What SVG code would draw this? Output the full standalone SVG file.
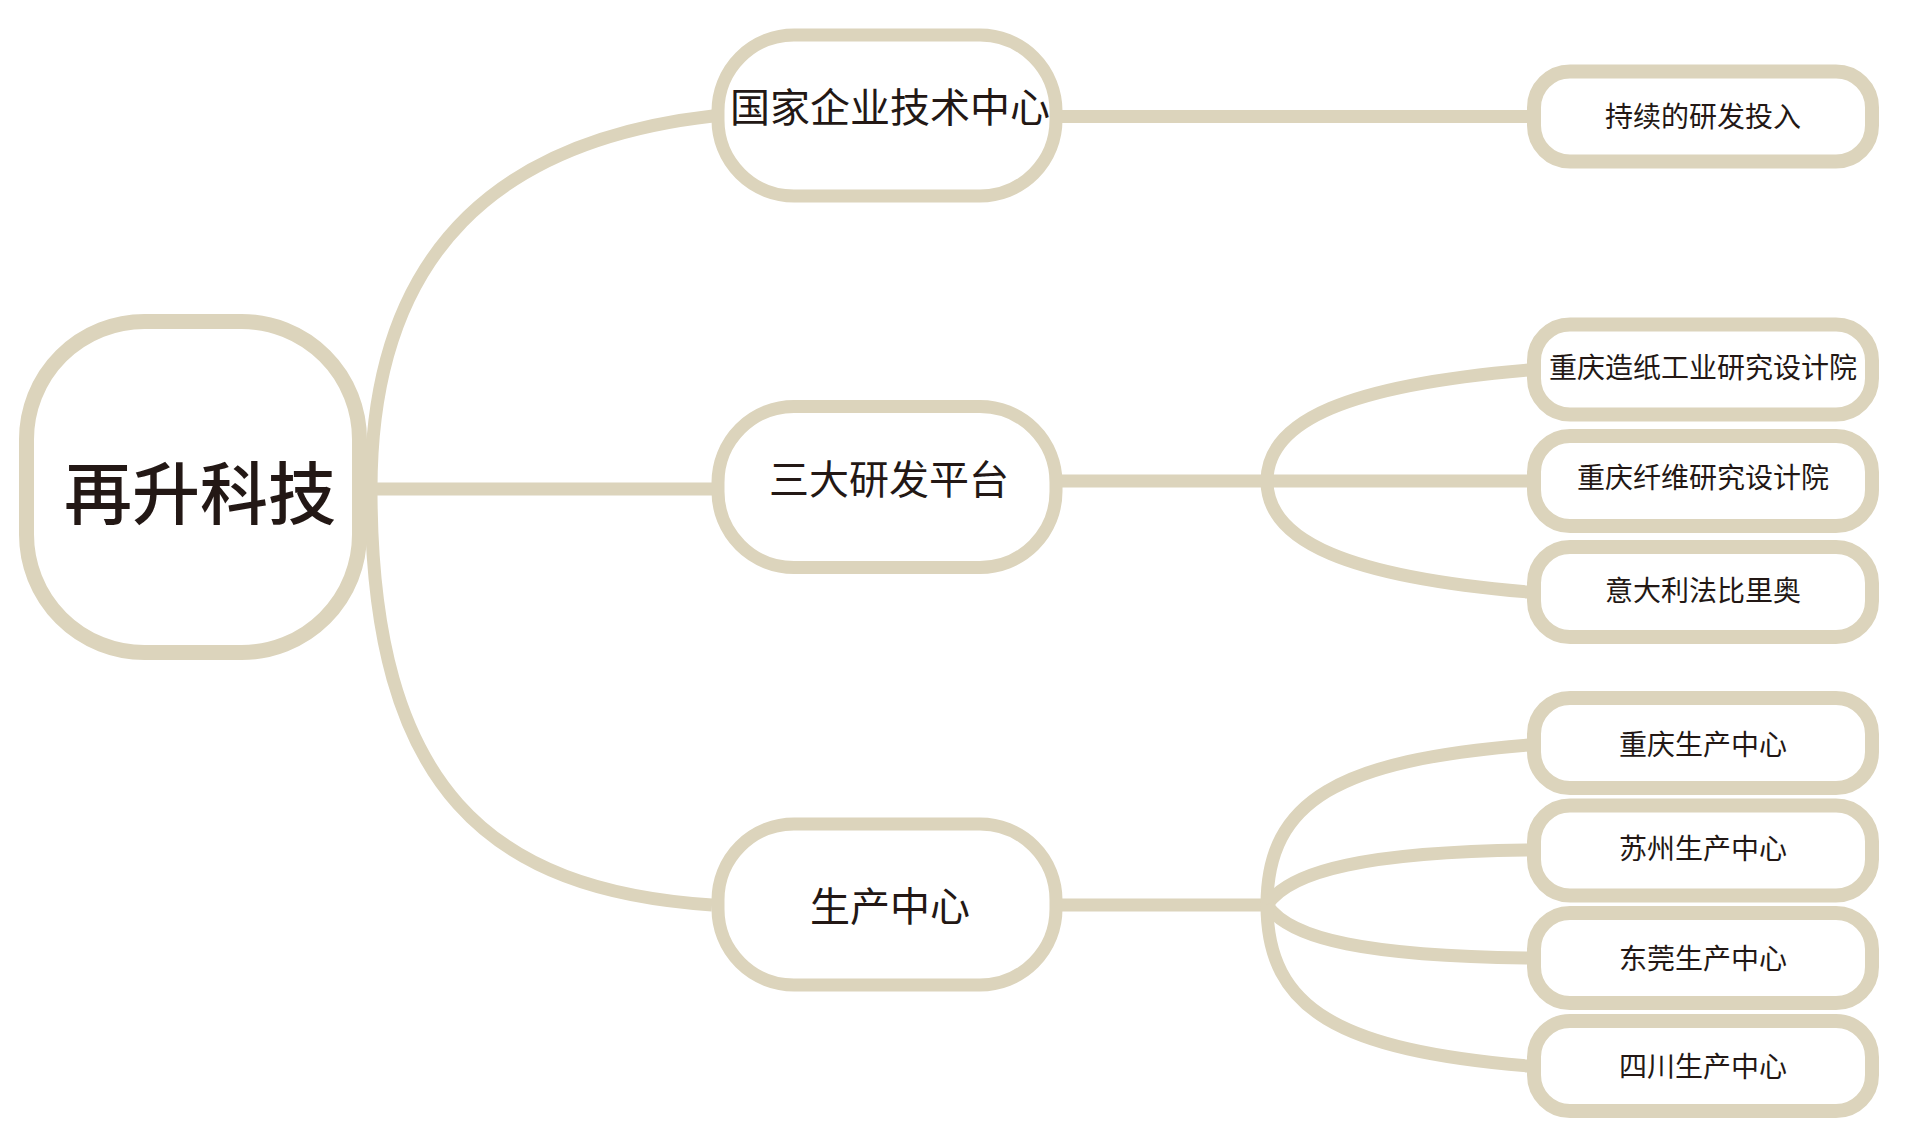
<svg xmlns="http://www.w3.org/2000/svg" width="1920" height="1145" viewBox="0 0 1920 1145">
<style>
.bg{fill:#ffffff}
.conn{fill:none;stroke:#DCD4BC;stroke-width:13;stroke-linecap:butt}
.box{fill:#ffffff;stroke:#DCD4BC}
.root{stroke-width:15}
.l1{stroke-width:13}
.l2{stroke-width:14}
text{font-family:"Noto Sans CJK SC","Noto Sans",sans-serif;fill:#231815;text-anchor:middle;dominant-baseline:central}
.t0{font-size:68px;font-weight:500}
.t1{font-size:40px;font-weight:normal}
.t2{font-size:28px}
</style>
<rect class="bg" x="0" y="0" width="1920" height="1145"/>
<g id="connectors">
<path class="conn" d="M371 489 C371 250 500 140 713 116"/>
<path class="conn" d="M367 489 L712 489"/>
<path class="conn" d="M371 489 C371 790 490 890 712 905"/>
<path class="conn" d="M1062 116.5 L1528 116.5"/>
<path class="conn" d="M1062 481 L1528 481"/>
<path class="conn" d="M1267 481 C1267 420 1350 385 1528 370"/>
<path class="conn" d="M1267 481 C1267 542 1350 577 1528 592"/>
<path class="conn" d="M1062 905 L1268 905"/>
<path class="conn" d="M1267 905 C1267 800 1340 760 1528 745"/>
<path class="conn" d="M1267 905 C1290 870 1370 852 1528 850"/>
<path class="conn" d="M1267 905 C1290 940 1370 956 1528 958"/>
<path class="conn" d="M1267 905 C1267 1010 1340 1050 1528 1066"/>
</g>
<g id="node-root">
<rect class="box root" x="26.5" y="321.5" width="333" height="331" rx="118"/>
<text class="t0" x="200" y="489">再升科技</text>
</g>
<g id="node-a">
<rect class="box l1" x="718" y="35" width="338" height="161" rx="76"/>
<text class="t1" x="890" y="105">国家企业技术中心</text>
</g>
<g id="node-b">
<rect class="box l1" x="718" y="406.5" width="338" height="161" rx="76"/>
<text class="t1" x="889" y="477">三大研发平台</text>
</g>
<g id="node-c">
<rect class="box l1" x="718" y="824" width="338" height="161" rx="76"/>
<text class="t1" x="890" y="904">生产中心</text>
</g>
<g id="node-a1">
<rect class="box l2" x="1534" y="71.5" width="338" height="90" rx="36"/>
<text class="t2" x="1703" y="115">持续的研发投入</text>
</g>
<g id="node-b1">
<rect class="box l2" x="1534" y="324.5" width="338" height="90" rx="36"/>
<text class="t2" x="1703" y="366">重庆造纸工业研究设计院</text>
</g>
<g id="node-b2">
<rect class="box l2" x="1534" y="436" width="338" height="90" rx="36"/>
<text class="t2" x="1703" y="475.5">重庆纤维研究设计院</text>
</g>
<g id="node-b3">
<rect class="box l2" x="1534" y="547" width="338" height="90" rx="36"/>
<text class="t2" x="1703" y="588.5">意大利法比里奥</text>
</g>
<g id="node-c1">
<rect class="box l2" x="1534" y="698" width="338" height="90" rx="36"/>
<text class="t2" x="1703" y="742.5">重庆生产中心</text>
</g>
<g id="node-c2">
<rect class="box l2" x="1534" y="805.5" width="338" height="90" rx="36"/>
<text class="t2" x="1703" y="847">苏州生产中心</text>
</g>
<g id="node-c3">
<rect class="box l2" x="1534" y="913" width="338" height="90" rx="36"/>
<text class="t2" x="1703" y="957">东莞生产中心</text>
</g>
<g id="node-c4">
<rect class="box l2" x="1534" y="1021" width="338" height="90" rx="36"/>
<text class="t2" x="1703" y="1065">四川生产中心</text>
</g>
</svg>
